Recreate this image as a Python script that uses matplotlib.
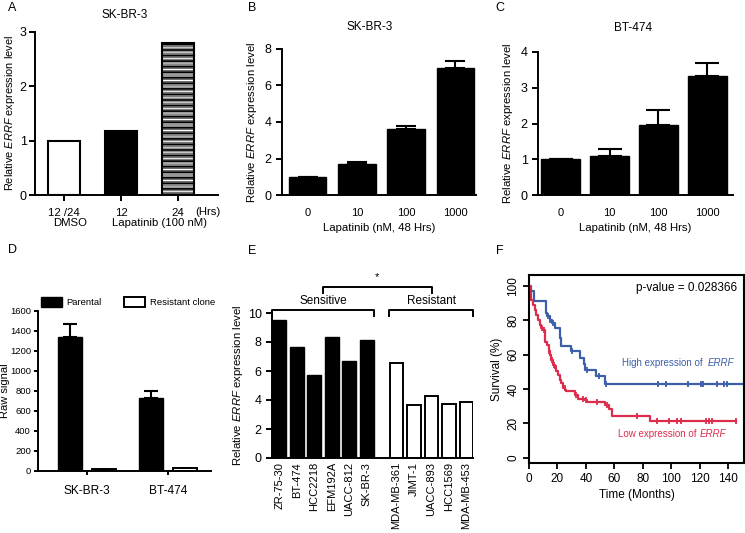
import numpy as np
import matplotlib
matplotlib.use("Agg")
import matplotlib.pyplot as plt
from matplotlib import font_manager
from matplotlib.patches import Patch

names = {f.name for f in font_manager.fontManager.ttflist}
NARROW = "Liberation Sans Narrow" if "Liberation Sans Narrow" in names else "Liberation Sans"
REG = "Liberation Sans"

plt.rcParams["font.family"] = [NARROW, "DejaVu Sans"]
plt.rcParams["font.size"] = 8.2
plt.rcParams["mathtext.fontset"] = "custom"
plt.rcParams["mathtext.it"] = NARROW + ":italic"
plt.rcParams["mathtext.rm"] = NARROW
plt.rcParams["hatch.linewidth"] = 0.8

# ── data ────────────────────────────────────────────────────────────────
a_labels = ["12 /24", "12", "24"]
a_values = [1.0, 1.18, 2.80]

b_doses = ["0", "10", "100", "1000"]
b_values = [1.0, 1.70, 3.60, 6.95]
b_err = [0.0, 0.09, 0.18, 0.40]

c_doses = ["0", "10", "100", "1000"]
c_values = [1.02, 1.10, 1.97, 3.33]
c_err = [0.0, 0.19, 0.40, 0.36]

d_lines = ["SK-BR-3", "BT-474"]
d_parental = [1340, 733]
d_parental_err = [130, 67]
d_resistant = [18, 27]
d_resistant_err = [3, 8]

e_sensitive = ["ZR-75-30", "BT-474", "HCC2218", "EFM192A", "UACC-812", "SK-BR-3"]
e_sens_values = [9.55, 7.68, 5.70, 8.33, 6.68, 8.17]
e_resistant = ["MDA-MB-361", "JIMT-1", "UACC-893", "HCC1569", "MDA-MB-453"]
e_res_values = [6.52, 3.63, 4.30, 3.73, 3.86]

# Kaplan-Meier steps (months, survival %)
high_t = [0, 1.5, 3.3, 11.7, 12.8, 14.5, 16, 18, 21.5, 22.7, 29.8, 35.6, 38.5,
          39.4, 47.2, 53.2, 155]
high_s = [100, 97, 91, 84.5, 82.5, 80.5, 78.5, 75.4, 70, 64.8, 61.9, 58, 54.5,
          51, 47.4, 43.1, 43.1]
high_cens = [13.5, 15, 17, 30.5, 40.5, 49, 53.8, 90.3, 96.2, 111.4, 120.5,
             122.4, 131.8, 137, 138.8]

low_t = [0, 0.4, 1.6, 2.8, 4.0, 5.2, 6.3, 7.5, 8.7, 9.8, 11.0, 11.5, 12.9, 13.8,
         14.5, 15.7, 16.9, 18.1, 19.2, 20.4, 21.6, 22.7, 23.9, 25.1, 26.3, 32.1,
         34.5, 39.2, 41.0, 53.5, 56.5, 58.6, 85.0, 145.5]
low_s = [100, 95.7, 91.9, 89.0, 86.1, 83.2, 80.3, 77.4, 75.4, 74.5, 72.5, 67.7,
         65.8, 61.9, 60.0, 57.1, 54.2, 52.2, 50.3, 48.4, 45.5, 43.5, 40.6, 39.7,
         38.7, 36.8, 34.5, 33.5, 32.3, 30.5, 28.5, 24.3, 21.7, 21.7]
low_cens = [9, 10.4, 14, 16.2, 17.5, 19, 25, 33, 38, 39.8, 48, 54.5, 75.5, 89.6,
            98.5, 104, 106.5, 124.5, 126.4, 128.5, 145.5]

# ── figure ──────────────────────────────────────────────────────────────
W, H = 745, 533
fig = plt.figure(figsize=(W / 100, H / 100), dpi=100)


def px_axes(l, t, r, b):
    return fig.add_axes([l / W, 1 - b / H, (r - l) / W, (b - t) / H])


def ftext(x, y, s, **kw):
    fig.text(x / W, 1 - y / H, s, ha="center", va="center", **kw)


def gp_style(ax, lw=1.4):
    ax.spines[["top", "right"]].set_visible(False)
    for s in ["left", "bottom"]:
        ax.spines[s].set_linewidth(lw)
    ax.tick_params(width=lw, length=4, direction="out")


ylab = r"Relative $\mathit{ERRF}$ expression level"

# panel letters
for lbl, x, y in [("A", 12, 8), ("B", 252, 8), ("C", 500, 8),
                  ("D", 12, 250), ("E", 252, 251), ("F", 500, 251)]:
    ftext(x, y, lbl, fontsize=9)

# ── A ──
ax = px_axes(35, 32, 218, 195)
gp_style(ax)
xa = np.arange(len(a_values))
ax.bar(xa[0], a_values[0], 0.56, facecolor="white", edgecolor="black", linewidth=1.5)
ax.bar(xa[1], a_values[1], 0.56, facecolor="black", edgecolor="black", linewidth=1.5)
ax.bar(xa[2], a_values[2], 0.56, facecolor="black", hatch="------",
       edgecolor="#9a9a9a", linewidth=0)
ax.bar(xa[2], a_values[2], 0.56, facecolor="none", hatch="---",
       edgecolor="white", linewidth=0)
ax.bar(xa[2], a_values[2], 0.56, fill=False, edgecolor="black", linewidth=1.5)
ax.set_xlim(-0.51, 2.70)
ax.set_ylim(0, 3)
ax.set_yticks([0, 1, 2, 3])
ax.tick_params(axis="y", labelsize=9, pad=2)
ax.set_xticks(xa)
ax.set_xticklabels(a_labels)
ax.tick_params(axis="x", pad=5)
ax.set_ylabel(ylab, labelpad=2, fontsize=7.9)
tr = ax.get_xaxis_transform()
ax.text(2.30, -(212 - 195) / 163, "(Hrs)", transform=tr, ha="left", va="center")
ax.text(0.10, -(223 - 195) / 163, "DMSO", transform=tr, ha="center", va="center")
ax.text(1.67, -(223 - 195) / 163, "Lapatinib (100 nM)", transform=tr,
        ha="center", va="center")
ftext(125, 15, "SK-BR-3", fontsize=8.5)


# ── B, C ──
def dose_panel(box, values, err, labels, ticks, ylim, xlim, width, capsize,
               title, tpos):
    ax = px_axes(*box)
    gp_style(ax)
    x = np.arange(len(values))
    ax.bar(x, values, width, color="black", edgecolor="black", linewidth=1)
    ax.errorbar(x, values, yerr=[np.zeros(len(err)), err], fmt="none",
                ecolor="black", elinewidth=1.5, capsize=capsize, capthick=1.5)
    ax.set_xlim(*xlim)
    ax.set_ylim(*ylim)
    ax.set_yticks(ticks)
    ax.tick_params(axis="y", labelsize=9)
    ax.set_xticks(x)
    ax.set_xticklabels(labels, fontsize=8)
    ax.tick_params(axis="x", length=0, pad=9)
    ax.set_ylabel(ylab, labelpad=4)
    ax.set_xlabel("Lapatinib (nM, 48 Hrs)", labelpad=4)
    ftext(tpos[0], tpos[1], title, fontsize=8.5)
    return ax


dose_panel((282, 49, 476, 195), b_values, b_err, b_doses, [0, 2, 4, 6, 8],
           (0, 8), (-0.52, 3.42), 0.76, 7, "SK-BR-3", (370, 27))
dose_panel((538, 52, 733, 195), c_values, c_err, c_doses, [0, 1, 2, 3, 4],
           (0, 4), (-0.47, 3.53), 0.80, 8.5, "BT-474", (633, 28))

# ── D ──
ax = px_axes(38, 311, 211, 471)
gp_style(ax)
xd = np.arange(len(d_lines))
ax.bar(xd - 0.21, d_parental, 0.30, color="black", edgecolor="black", linewidth=1)
ax.bar(xd + 0.21, d_resistant, 0.30, facecolor="white", edgecolor="black", linewidth=1.4)
ax.errorbar(xd - 0.21, d_parental, yerr=[np.zeros(2), d_parental_err], fmt="none",
            ecolor="black", elinewidth=1.5, capsize=5, capthick=1.5)
ax.errorbar(xd + 0.21, d_resistant, yerr=[np.zeros(2), d_resistant_err], fmt="none",
            ecolor="black", elinewidth=1.2, capsize=4, capthick=1.2)
ax.set_xlim(-0.605, 1.53)
ax.set_ylim(0, 1600)
ax.set_yticks(np.arange(0, 1601, 200))
ax.tick_params(axis="y", labelsize=6.8, length=3, pad=2)
ax.set_xticks(xd)
ax.set_xticklabels(d_lines, fontsize=8.6)
ax.tick_params(axis="x", length=3, pad=7)
ax.set_ylabel("Raw signal", labelpad=0, fontsize=8)
handles = [Patch(facecolor="black", edgecolor="black"),
           Patch(facecolor="white", edgecolor="black", linewidth=1.4)]
ax.legend(handles, ["Parental", "Resistant clone"], loc="center",
          bbox_to_anchor=(128 / W, 1 - 302 / H), bbox_transform=fig.transFigure,
          ncol=2, frameon=False, fontsize=6.8, handlelength=2.2, handleheight=1.3,
          columnspacing=2.4, handletextpad=0.5, borderpad=0)

# ── E ──
ax = px_axes(272, 313, 473, 458)
gp_style(ax)
xs = np.arange(len(e_sensitive))
xr = np.arange(len(e_resistant)) + len(e_sensitive) + 0.7
ax.bar(xs, e_sens_values, 0.78, color="black", edgecolor="black", linewidth=1)
ax.bar(xr, e_res_values, 0.78, facecolor="white", edgecolor="black", linewidth=1.4)
ax.set_xlim(-0.41, 11.07)
ax.set_ylim(0, 10)
ax.set_yticks([0, 2, 4, 6, 8, 10])
ax.tick_params(axis="y", labelsize=9)
ax.set_xticks(np.concatenate([xs, xr]))
ax.set_xticklabels(e_sensitive + e_resistant, rotation=90, fontsize=8)
ax.tick_params(axis="x", length=0, pad=3)
ax.set_ylabel(ylab, labelpad=2)
bk = dict(color="black", linewidth=1.4, clip_on=False)
for x0, x1 in [(xs[0] - 0.4, xs[-1] + 0.43), (xr[0] - 0.41, xr[-1] + 0.37)]:
    ax.plot([x0, x0, x1, x1], [9.8, 10.2, 10.2, 9.8], **bk)
cs, cr = xs.mean(), xr.mean()
ax.plot([cs, cs, cr, cr], [11.38, 11.81, 11.81, 11.38], **bk)
ax.text(cs, 10.83, "Sensitive", ha="center", va="center", fontsize=8.5)
ax.text(cr, 10.83, "Resistant", ha="center", va="center", fontsize=8.5)
ax.text((cs + cr) / 2, 12.45, "*", ha="center", va="center", fontsize=8)

# ── F ──
blue, red = "#3d5ea8", "#dc2d4e"
ax = px_axes(529, 275, 744, 463)
for s in ax.spines.values():
    s.set_linewidth(1.5)
ax.step(high_t, high_s, where="post", color=blue, linewidth=1.6)
ax.step(low_t, low_s, where="post", color=red, linewidth=1.6)
hc = np.array(high_s)[np.searchsorted(high_t, high_cens, side="right") - 1]
lc = np.array(low_s)[np.searchsorted(low_t, low_cens, side="right") - 1]
ax.plot(high_cens, hc, linestyle="none", marker="|", color=blue, markersize=5,
        markeredgewidth=1.3)
ax.plot(low_cens, lc, linestyle="none", marker="|", color=red, markersize=5,
        markeredgewidth=1.3)
ax.set_xlim(0, 151)
ax.set_ylim(-3, 106.4)
ax.set_xticks(np.arange(0, 141, 20))
ax.set_yticks(np.arange(0, 101, 20))
fF = dict(family=[REG, "DejaVu Sans"], fontsize=8.5)
ax.set_xticklabels([str(v) for v in range(0, 141, 20)], **fF)
ax.set_yticklabels([str(v) for v in range(0, 101, 20)], rotation=90,
                   va="center", **fF)
ax.tick_params(width=1.3, length=4, direction="out", pad=3)
ax.set_xlabel("Time (Months)", labelpad=3, **fF)
ax.set_ylabel("Survival (%)", labelpad=3, **fF)
ax.text(0.97, 0.93, "p-value = 0.028366", transform=ax.transAxes, ha="right",
        va="center", **fF)
fS = dict(family=[REG, "DejaVu Sans"], fontsize=7)
t1 = ax.text((622 - 529) / 215, 0.53, "High expression of  ", transform=ax.transAxes,
             ha="left", va="center", color=blue, **fS)
ax.annotate("ERRF", xy=(1, 0.5), xycoords=t1, va="center", ha="left",
            color=blue, fontstyle="italic", **fS)
t2 = ax.text((618 - 529) / 215, 0.155, "Low expression of ", transform=ax.transAxes,
             ha="left", va="center", color=red, **fS)
ax.annotate("ERRF", xy=(1, 0.5), xycoords=t2, va="center", ha="left",
            color=red, fontstyle="italic", **fS)

fig.savefig("out.png", dpi=100)
